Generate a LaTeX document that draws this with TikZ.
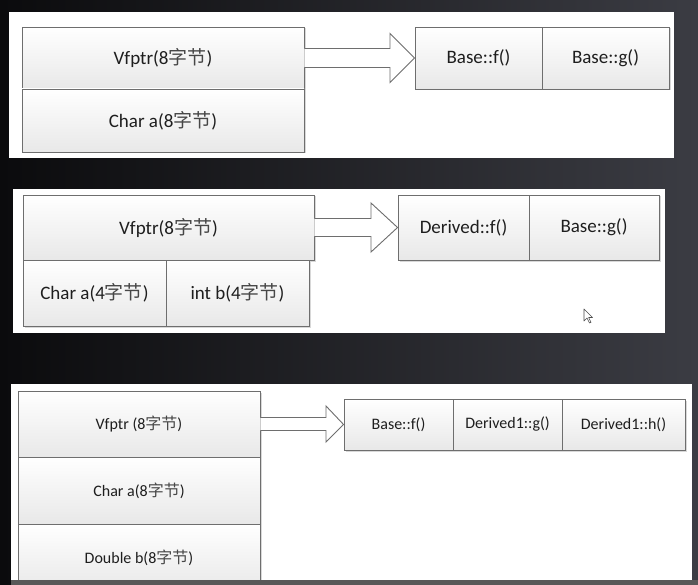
\documentclass[tikz,border=0pt]{standalone}
\usepackage{fontspec}
\setmainfont{Carlito}
\newfontfamily\cjk{Noto Sans CJK SC}
\usetikzlibrary{calc,shadows}
\definecolor{bgl}{HTML}{0B0B0D}
\definecolor{bgr}{HTML}{3B3C43}
\definecolor{edge}{HTML}{6E6E6E}
\definecolor{txt}{HTML}{1E1E1E}
\definecolor{band}{HTML}{585858}
\newcommand\zj{{\cjk\color{black!72}字节}}
\begin{document}
\begin{tikzpicture}[x=1pt,y=-1pt,
  cell/.style={draw=edge, line width=0.9pt, top color=white, bottom color=black!9,
    inner sep=0pt, text=txt,
    drop shadow={shadow xshift=1.5pt, shadow yshift=-1.5pt, fill=black!30, opacity=0.5}},
  big/.style={font=\fontsize{19}{22}\selectfont},
  small/.style={font=\fontsize{16}{19}\selectfont},
  panel/.style={fill=white, draw=none},
  blockarrow/.style={draw=edge, line width=0.9pt, fill=white, line join=miter}]
\useasboundingbox (0,0) rectangle (698,585);
\shade[left color=bgl, right color=bgr] (0,0) rectangle (698,585);

% ---------- panel 1 ----------
\fill[panel] (9,12) rectangle (674,158);
\node[cell, big, minimum width=282pt, minimum height=62pt] (v1) at (163,58) {Vfptr(8\zj)};
\node[cell, big, minimum width=282pt, minimum height=63pt] (c1) at (163,120.5) {Char a(8\zj)};
\node[cell, big, minimum width=127pt, minimum height=62pt] (f1) at (478.5,58) {Base::f()};
\node[cell, big, minimum width=127pt, minimum height=62pt] (g1) at (605.5,58) {Base::g()};
\coordinate (h1) at (390,0);
\draw[blockarrow] ($(v1.east)+(0,-9.5)$) -- ($(v1.east -| h1)+(0,-9.5)$) -- ($(v1.east -| h1)+(0,-24.5)$)
  -- (f1.west) -- ($(v1.east -| h1)+(0,24.5)$) -- ($(v1.east -| h1)+(0,9.5)$) -- ($(v1.east)+(0,9.5)$);

% ---------- panel 2 ----------
\fill[panel] (13,189) rectangle (665,333);
\node[cell, big, minimum width=291pt, minimum height=65pt] (v2) at (168.5,227.5) {Vfptr(8\zj)};
\node[cell, big, minimum width=143pt, minimum height=66pt] (a2) at (94.5,293) {Char a(4\zj)};
\node[cell, big, minimum width=143pt, minimum height=66pt] (b2) at (237.5,293) {int b(4\zj)};
\node[cell, big, minimum width=131pt, minimum height=65pt] (d2) at (463.5,227.5) {Derived::f()};
\node[cell, big, minimum width=130pt, minimum height=65pt] (g2) at (594,227.5) {Base::g()};
\coordinate (h2) at (371,0);
\draw[blockarrow] ($(v2.east)+(0,-9)$) -- ($(v2.east -| h2)+(0,-9)$) -- ($(v2.east -| h2)+(0,-24.5)$)
  -- (d2.west) -- ($(v2.east -| h2)+(0,24.5)$) -- ($(v2.east -| h2)+(0,9)$) -- ($(v2.east)+(0,9)$);
% mouse pointer
\draw[fill=white, draw=black!70, line width=0.6pt, line join=round]
  (584,309) -- (584,321) -- (587,318) -- (589.5,323) -- (591,322.3) -- (588.6,317.5) -- (592.5,317.5) -- cycle;

% ---------- panel 3 ----------
\fill[panel] (11,384) rectangle (692,585);
\node[cell, small, minimum width=242pt, minimum height=66pt] (v3) at (139,424) {Vfptr (8\zj)};
\node[cell, small, minimum width=242pt, minimum height=67pt] (a3) at (139,490.5) {Char a(8\zj)};
\node[cell, small, minimum width=242pt, minimum height=67pt] (b3) at (139,557.5) {Double b(8\zj)};
\node[cell, small, minimum width=109pt, minimum height=51pt] (f3) at (398.5,424.5) {Base::f()};
\node[cell, small, minimum width=109pt, minimum height=51pt] (g3) at (507.5,424.5) {Derived1::g()};
\node[cell, small, minimum width=123pt, minimum height=51pt] (k3) at (623.5,424.5) {Derived1::h()};
\coordinate (h3) at (326,0);
\draw[blockarrow] ($(v3.east)+(0,-6.5)$) -- ($(v3.east -| h3)+(0,-6.5)$) -- ($(v3.east -| h3)+(0,-18)$)
  -- (f3.west) -- ($(v3.east -| h3)+(0,18)$) -- ($(v3.east -| h3)+(0,6.5)$) -- ($(v3.east)+(0,6.5)$);

% bottom bar
\fill[band] (11,580) rectangle (698,585);
\end{tikzpicture}
\end{document}
